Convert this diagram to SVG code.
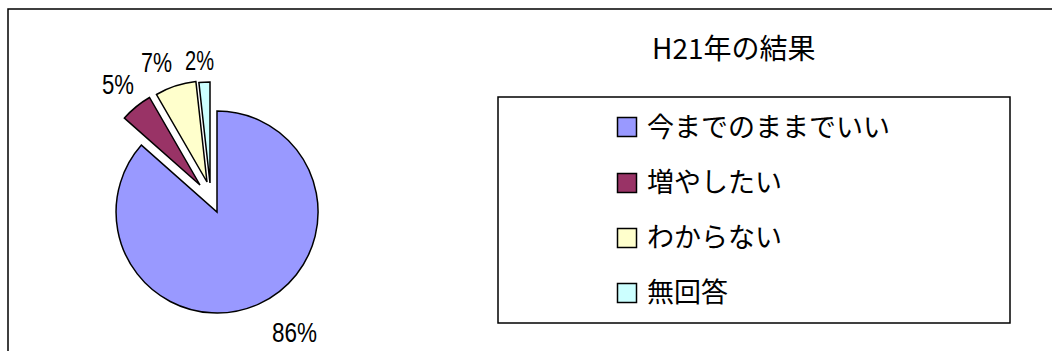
<svg xmlns="http://www.w3.org/2000/svg" width="1052" height="351" viewBox="0 0 1052 351">
<style>
.slice{stroke:#000;stroke-width:1.5;stroke-linejoin:miter}
.pct{font-family:"Liberation Sans",Arial,sans-serif;font-size:27px;fill:#000}
.lg{font-family:"Noto Sans CJK JP","Liberation Sans",sans-serif;font-size:27px;fill:#000}
.ttl{font-family:"Noto Sans CJK JP","Liberation Sans",sans-serif;font-size:28px;fill:#000}
.sw{stroke:#000;stroke-width:1.5}
</style>
<rect x="0" y="0" width="1052" height="351" fill="#fff"/>
<rect id="frame" x="8" y="9" width="1100" height="400" fill="#fff" stroke="#000" stroke-width="1.5"/>
<g id="pie">
<g id="slice-keep"><path class="slice" fill="#9999FF" d="M217,212 L217,111 A101,101 0 1 1 141.4,145.1 Z"/></g>
<g id="slice-increase"><path class="slice" fill="#993366" d="M200,185 L124.4,118.1 A101,101 0 0 1 149.5,97.5 Z"/></g>
<g id="slice-unknown"><path class="slice" fill="#FFFFCC" d="M207,182 L156.5,94.5 A101,101 0 0 1 195.9,81.6 Z"/></g>
<g id="slice-noanswer"><path class="slice" fill="#CCFFFF" d="M210,183 L198.9,82.6 A101,101 0 0 1 210,82 Z"/></g>
</g>
<g id="labels">
<text class="pct" x="102" y="94" textLength="32" lengthAdjust="spacingAndGlyphs">5%</text>
<text class="pct" x="141" y="72" textLength="31" lengthAdjust="spacingAndGlyphs">7%</text>
<text class="pct" x="185" y="70" textLength="29" lengthAdjust="spacingAndGlyphs">2%</text>
<text class="pct" x="272" y="342" textLength="45" lengthAdjust="spacingAndGlyphs">86%</text>
</g>
<text id="title" class="ttl" x="652" y="59">H21年の結果</text>
<g id="legend">
<rect x="498" y="97" width="512" height="226" fill="#fff" stroke="#000" stroke-width="1.5"/>
<g id="leg-keep"><rect class="sw" x="617.5" y="117.5" width="19" height="19" fill="#9999FF"/><text class="lg" x="647" y="137">今までのままでいい</text></g>
<g id="leg-increase"><rect class="sw" x="617.5" y="173.5" width="19" height="19" fill="#993366"/><text class="lg" x="647" y="192">増やしたい</text></g>
<g id="leg-unknown"><rect class="sw" x="617.5" y="228.5" width="19" height="19" fill="#FFFFCC"/><text class="lg" x="647" y="247">わからない</text></g>
<g id="leg-noanswer"><rect class="sw" x="617.5" y="283.5" width="19" height="19" fill="#CCFFFF"/><text class="lg" x="647" y="302">無回答</text></g>
</g>
</svg>
